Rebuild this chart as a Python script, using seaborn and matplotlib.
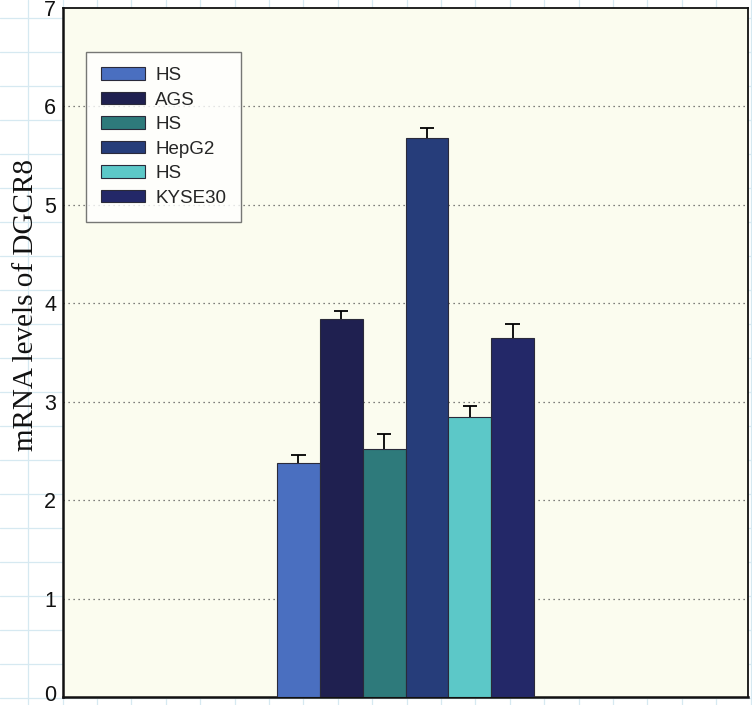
import numpy as np
import pandas as pd
import matplotlib
matplotlib.use("Agg")
import matplotlib.pyplot as plt
import matplotlib.transforms as mtrans
from matplotlib.lines import Line2D
import seaborn as sns

# ---- data ----
labels = ["HS", "AGS", "HS", "HepG2", "HS", "KYSE30"]
values = [2.38, 3.84, 2.52, 5.68, 2.84, 3.65]
errors = [0.08, 0.08, 0.15, 0.10, 0.12, 0.14]
positions = [5, 6, 7, 8, 9, 10]
colors = ["#4a6fc0", "#1f2050", "#2e7a7b", "#263d7a", "#5cc8c8", "#232868"]
yticks = [0, 1, 2, 3, 4, 5, 6, 7]

sns.set_theme(style="white")
plt.rcParams["font.family"] = ["Liberation Sans", "DejaVu Sans"]

W, H = 752, 705
fig = plt.figure(figsize=(W / 100, H / 100), dpi=100)
fig.patch.set_facecolor("white")

# graph paper background
for px in np.arange(28.2, W, 34.4):
    fig.add_artist(Line2D([px / W, px / W], [0, 1], transform=fig.transFigure,
                          color="#d6e9f1", lw=0.9, zorder=0))
for py in np.arange(18, H, 34.0):
    fig.add_artist(Line2D([0, 1], [1 - py / H, 1 - py / H], transform=fig.transFigure,
                          color="#d6e9f1", lw=0.9, zorder=0))

ax_l, ax_r, ax_t, ax_b = 63, 748, 8, 697
ax = fig.add_axes([ax_l / W, 1 - ax_b / H, (ax_r - ax_l) / W, (ax_b - ax_t) / H])
ax.set_facecolor("#fbfcef")
ax.set_zorder(1)

df = pd.DataFrame({"pos": positions, "val": values, "key": [str(i) for i in range(len(values))]})
sns.barplot(data=df, x="pos", y="val", hue="key", palette=colors, native_scale=True,
            dodge=False, width=1.0, legend=False, edgecolor="#2a2a3a", linewidth=0.8,
            saturation=1, ax=ax, zorder=3)

tops = np.array(values) + np.array(errors)
pos = np.array(positions, dtype=float)
ax.vlines(pos, values, tops, color="black", lw=1.3, zorder=4)
ax.hlines(tops, pos - 0.165, pos + 0.165, color="black", lw=1.3, zorder=4)

ax.set_xlim(-0.5, 15.5)
ax.set_ylim(0, 7)
ax.set_yticks(yticks)
ax.set_yticklabels([str(t) for t in yticks], fontsize=15.5, color="#111111")
ax.set_xticks([])
ax.tick_params(axis="y", length=0, pad=5)
ax.set_xlabel("")
ax.set_ylabel("mRNA levels of DGCR8", fontsize=21, family=["Liberation Serif", "DejaVu Serif"],
              color="#111111")
ax.yaxis.set_label_coords(-0.035, 0.569)

# nudge the bottom "0" label slightly up so it stays inside the figure
zero_lbl = ax.get_yticklabels()[0]
zero_lbl.set_transform(zero_lbl.get_transform() +
                       mtrans.ScaledTranslation(0, 3 / 72, fig.dpi_scale_trans))

for y in yticks[1:-1]:
    ax.axhline(y, color="#555555", lw=0.9, ls=(0, (1, 3)), zorder=1)

for side, sp in ax.spines.items():
    sp.set_visible(True)
    sp.set_color("#111111")
    sp.set_linewidth(1.3)
ax.spines["left"].set_linewidth(1.8)
ax.spines["bottom"].set_linewidth(1.8)

bars = [p for p in ax.patches][:len(labels)]
leg = ax.legend(bars, labels, loc="upper left", bbox_to_anchor=(0.034, 0.936),
                fontsize=13.5, frameon=True, fancybox=False, handlelength=2.35,
                handleheight=0.64, labelspacing=0.4, borderpad=0.8, handletextpad=0.53,
                borderaxespad=0)
leg.get_frame().set_edgecolor("#555555")
leg.get_frame().set_facecolor("white")
leg.get_frame().set_linewidth(1.0)
leg.set_zorder(5)

fig.savefig("out.png", dpi=100)
